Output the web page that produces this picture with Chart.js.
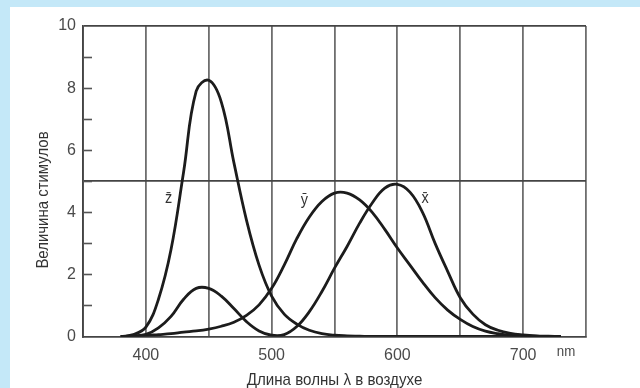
<!DOCTYPE html>
<html>
  <head>
    <title>Stimulus curves</title>
    <meta charset="UTF-8">
    <style>
      body { margin: 0; background: #c4e8f8; }
      canvas { display: block; }
    </style>
  </head>
  <body>
    <canvas id="cmfChart" width="640" height="388"></canvas>
    <script src="https://cdn.jsdelivr.net/npm/chart.js/dist/chart.umd.min.js"></script>
    <script>
      // wavelengths in nm, every 10 nm
      const wavelengths = [380, 390, 400, 410, 420, 430, 440, 450, 460, 470, 480, 490,
                           500, 510, 520, 530, 540, 550, 560, 570, 580, 590, 600, 610,
                           620, 630, 640, 650, 660, 670, 680, 690, 700, 710, 720, 730];

      // values
      const xBar = [0, 0.02, 0.07, 0.28, 0.65, 1.2, 1.55, 1.55, 1.3, 0.9, 0.48, 0.18,
                    0.04, 0.06, 0.32, 0.8, 1.45, 2.2, 2.9, 3.65, 4.3, 4.78, 4.9, 4.65,
                    4.0, 3.0, 2.1, 1.25, 0.72, 0.38, 0.2, 0.1, 0.05, 0.02, 0.01, 0];
      const yBar = [0, 0.01, 0.03, 0.06, 0.09, 0.14, 0.18, 0.24, 0.33, 0.46, 0.68, 1.02,
                    1.55, 2.3, 3.15, 3.85, 4.35, 4.62, 4.62, 4.4, 4.0, 3.45, 2.85, 2.3,
                    1.75, 1.25, 0.85, 0.55, 0.32, 0.17, 0.09, 0.04, 0.02, 0.01, 0, 0];
      const zBar = [0, 0.06, 0.3, 1.2, 2.8, 5.3, 7.9, 8.25, 7.55, 5.6, 3.75, 2.3,
                    1.3, 0.72, 0.4, 0.2, 0.09, 0.04, 0.02, 0.01, 0, 0, 0, 0,
                    0, 0, 0, 0, 0, 0, 0, 0, 0, 0, 0, 0];

      const xLabels = [400, 500, 600, 700];        // labelled x ticks
      const yLabels = [0, 2, 4, 6, 8, 10];         // labelled y ticks
      const curveNames = ['x\u0304', 'y\u0304', 'z\u0304'];
      // where the curve names sit (nm, value)
      const nameSpots = [[622, 4.45], [526, 4.4], [418, 4.45]];

      const xTitle = 'Длина волны λ в воздухе';
      const yTitle = 'Величина стимулов';
      const unitText = 'nm';

      const LINE = '#1c1c1c';
      const TEXT = '#4a4a4a';
      const FONT = "'Liberation Sans', Arial, sans-serif";

      function toPoints(vals){
        return vals.map((v, i) => ({x: wavelengths[i], y: v}));
      }

      // squeezed text, the original uses a condensed face
      function narrowText(c, txt, x, y, squeeze){
        c.save();
        c.translate(x, y);
        c.scale(squeeze, 1);
        c.fillText(txt, 0, 0);
        c.restore();
      }

      // white panel + inward y ticks + texts
      const decor = {
        id: 'decor',
        beforeDraw(chart){
          const c = chart.ctx;
          c.save();
          c.fillStyle = '#c4e8f8';
          c.fillRect(0, 0, chart.width, chart.height);
          c.fillStyle = '#ffffff';
          c.fillRect(10, 7, chart.width - 10, chart.height - 7);
          c.restore();
        },
        afterDraw(chart){
          const c = chart.ctx;
          const xs = chart.scales.x, ys = chart.scales.y;
          const area = chart.chartArea;
          c.save();
          // short inward ticks on the y axis
          c.strokeStyle = '#555';
          c.lineWidth = 1.6;
          for (let v = 1; v < 10; v++){
            const py = Math.round(ys.getPixelForValue(v)) + 0.5;
            c.beginPath();
            c.moveTo(area.left, py);
            c.lineTo(area.left + 9, py);
            c.stroke();
          }
          // curve names
          c.fillStyle = '#333';
          c.font = '17px ' + FONT;
          c.textAlign = 'center';
          c.textBaseline = 'middle';
          curveNames.forEach((n, i) => {
            narrowText(c, n, xs.getPixelForValue(nameSpots[i][0]), ys.getPixelForValue(nameSpots[i][1]), 0.85);
          });
          // unit
          c.fillStyle = TEXT;
          c.font = '14px ' + FONT;
          narrowText(c, unitText, 566, 352, 0.95);
          // axis titles
          c.fillStyle = '#333';
          c.font = '17px ' + FONT;
          narrowText(c, xTitle, (area.left + area.right) / 2, 380, 0.89);
          c.translate(43, 200);
          c.rotate(-Math.PI / 2);
          narrowText(c, yTitle, 0, 0, 0.88);
          c.restore();
        }
      };

      const ds = (vals) => ({
        data: toPoints(vals),
        borderColor: LINE,
        borderWidth: 2.8,
        pointRadius: 0,
        tension: 0.4,
        fill: false
      });

      new Chart(document.getElementById('cmfChart'), {
        type: 'line',
        data: { datasets: [ds(xBar), ds(yBar), ds(zBar)] },
        plugins: [decor],
        options: {
          responsive: false,
          animation: false,
          layout: { padding: { top: 26, right: 54, left: 0, bottom: 0 } },
          plugins: { legend: { display: false }, tooltip: { enabled: false } },
          scales: {
            x: {
              type: 'linear',
              min: 350, max: 750,
              afterFit(scale){ scale.height = 51.5; },
              ticks: {
                stepSize: 50,
                autoSkip: false,
                maxRotation: 0,
                padding: 9,
                color: TEXT,
                font: { family: FONT, size: 16 },
                callback: (v) => xLabels.includes(v) ? String(v) : ''
              },
              grid: { color: '#6e6e6e', lineWidth: 1.8, drawTicks: false },
              border: { color: '#444', width: 1.8 }
            },
            y: {
              min: 0, max: 10,
              afterFit(scale){ scale.width = 83; },
              ticks: {
                stepSize: 1,
                autoSkip: false,
                padding: 7,
                color: TEXT,
                font: { family: FONT, size: 16 },
                callback: (v) => yLabels.includes(v) ? String(v) : ''
              },
              grid: {
                drawTicks: false,
                lineWidth: 1.8,
                color: (ctx) => (ctx.tick && (ctx.tick.value === 5 || ctx.tick.value === 10)) ? '#444' : 'rgba(0,0,0,0)'
              },
              border: { color: '#444', width: 1.8 }
            }
          }
        }
      });
    </script>
  </body>
</html>
